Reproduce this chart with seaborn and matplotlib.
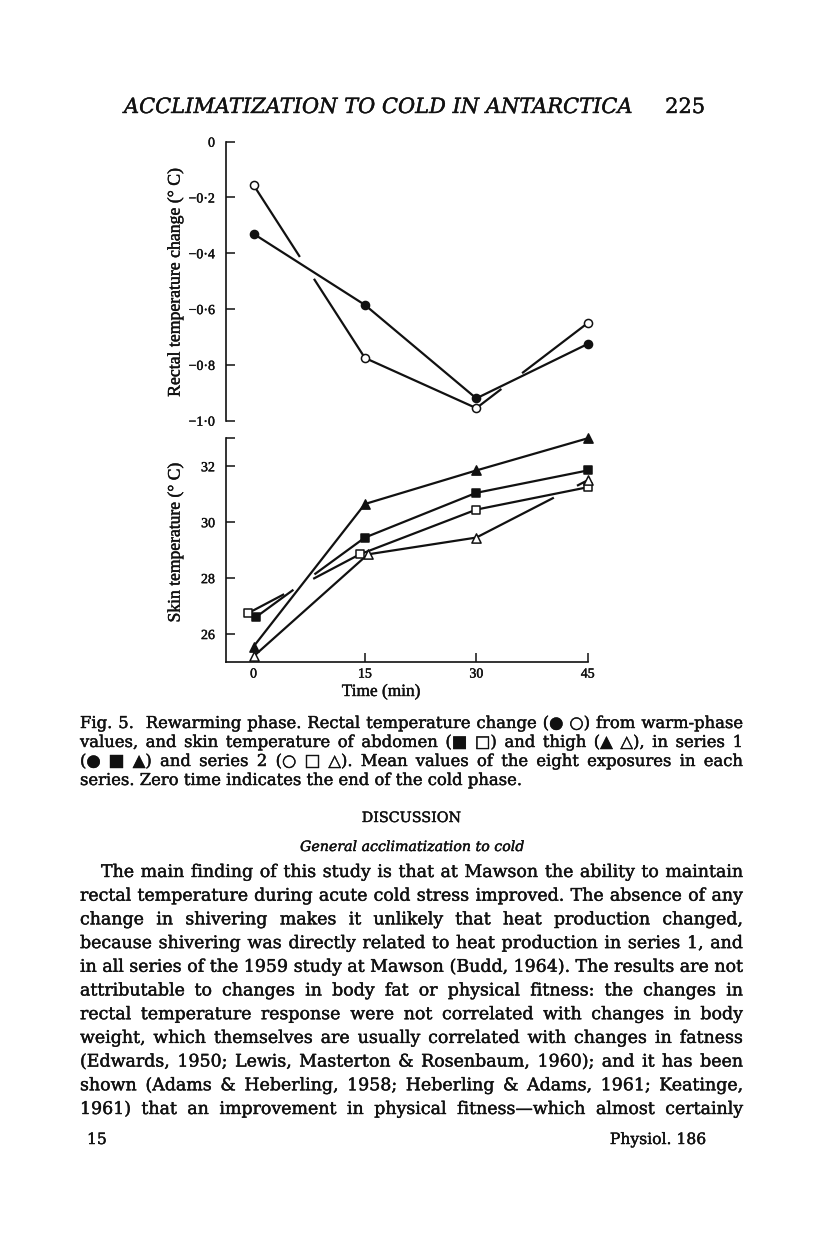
import numpy as np
import pandas as pd
import matplotlib
matplotlib.use("Agg")
import matplotlib.pyplot as plt
import matplotlib.patheffects as pe
import seaborn as sns

# ------------------------------------------------------------------ data
times = [0, 15, 30, 45]
rectal_series1 = [-0.33, -0.585, -0.92, -0.725]
rectal_series2 = [-0.155, -0.775, -0.955, -0.65]
abdomen_series1 = [26.62, 29.45, 31.05, 31.85]
abdomen_series2 = [26.75, 28.85, 30.45, 31.25]
thigh_series1 = [25.55, 30.65, 31.85, 33.0]
thigh_series2 = [25.2, 28.85, 29.45, 31.5]

rectal_ticks = [0, -0.2, -0.4, -0.6, -0.8, -1.0]
rectal_tick_labels = ["0", "\u22120\u00b72", "\u22120\u00b74", "\u22120\u00b76",
                      "\u22120\u00b78", "\u22121\u00b70"]
skin_ticks = [26, 28, 30, 32, 33]
skin_tick_labels = ["26", "28", "30", "32", ""]
time_ticks = [0, 15, 30, 45]
time_tick_labels = ["0", "15", "30", "45"]

rectal_label = "Rectal temperature change (\u00b0 C)"
skin_label = "Skin temperature (\u00b0 C)"
time_label = "Time (min)"

header_title = "ACCLIMATIZATION TO COLD IN ANTARCTICA"
header_page = "225"
caption_lines = [
    "Fig. 5.  Rewarming phase. Rectal temperature change (\u25cf \u25cb) from warm-phase",
    "values, and skin temperature of abdomen (\u25a0 \u25a1) and thigh (\u25b2 \u25b3), in series 1",
    "(\u25cf \u25a0 \u25b2) and series 2 (\u25cb \u25a1 \u25b3). Mean values of the eight exposures in each",
    "series. Zero time indicates the end of the cold phase.",
]
section_title = "DISCUSSION"
subsection_title = "General acclimatization to cold"
body_lines = [
    "The main finding of this study is that at Mawson the ability to maintain",
    "rectal temperature during acute cold stress improved. The absence of any",
    "change in shivering makes it unlikely that heat production changed,",
    "because shivering was directly related to heat production in series 1, and",
    "in all series of the 1959 study at Mawson (Budd, 1964). The results are not",
    "attributable to changes in body fat or physical fitness: the changes in",
    "rectal temperature response were not correlated with changes in body",
    "weight, which themselves are usually correlated with changes in fatness",
    "(Edwards, 1950; Lewis, Masterton & Rosenbaum, 1960); and it has been",
    "shown (Adams & Heberling, 1958; Heberling & Adams, 1961; Keatinge,",
    "1961) that an improvement in physical fitness\u2014which almost certainly",
]
footer_left = "15"
footer_right = "Physiol. 186"

# ------------------------------------------------------------------ style
sns.set_theme(style="white")
plt.rcParams["font.family"] = ["Liberation Serif", "DejaVu Serif", "DejaVu Sans"]

W, H = 816, 1249
fig = plt.figure(figsize=(W / 100, H / 100), dpi=100)
fig.patch.set_facecolor("white")
R = fig.canvas.get_renderer()

INK = "#111111"
LW = 1.6
GAP_PX = 26
BOLDEN = [pe.withStroke(linewidth=0.3, foreground=INK)]
SERIF = ["DejaVu Serif", "DejaVu Sans"]
LAB = ["Liberation Serif", "DejaVu Serif"]


def px_axes(left, top, right, bottom):
    return fig.add_axes([left / W, 1 - bottom / H, (right - left) / W, (bottom - top) / H])


# x scale shared by both panels
X0_PX, X45_PX = 253.5, 587.7
AX_LEFT, AX_RIGHT = 226, 590
per_min = (X45_PX - X0_PX) / 45
xlim = (-(X0_PX - AX_LEFT) / per_min, 45 + (AX_RIGHT - X45_PX) / per_min)

ax1 = px_axes(AX_LEFT, 141.7, AX_RIGHT, 420.7)
ax2 = px_axes(AX_LEFT, 438.3, AX_RIGHT, 662.0)
for ax in (ax1, ax2):
    ax.set_facecolor("none")
    ax.set_xlim(*xlim)
    for sp in ax.spines.values():
        sp.set_color(INK)
        sp.set_linewidth(1.2)
    ax.spines["top"].set_visible(False)
    ax.spines["right"].set_visible(False)
    ax.tick_params(direction="in", length=6.5, width=1.1, color=INK,
                   left=True, bottom=True, top=False, right=False)
ax1.set_ylim(-1.0, 0.0)
ax2.set_ylim(25, 33)
ax1.spines["bottom"].set_visible(False)
ax1.set_xticks([])
TICKFONT = dict(fontsize=10, family=LAB, color=INK)
ax1.set_yticks(rectal_ticks)
ax1.set_yticklabels(rectal_tick_labels, **TICKFONT)
ax2.set_yticks(skin_ticks)
ax2.set_yticklabels(skin_tick_labels, **TICKFONT)
ax2.set_xticks(time_ticks)
ax2.set_xticklabels(time_tick_labels, **TICKFONT)
ax2.spines["bottom"].set_bounds(xlim[0], 45)
ax1.tick_params(axis="y", pad=8)
ax2.tick_params(axis="y", pad=8)
ax2.tick_params(axis="x", pad=4)
for ax in (ax1, ax2):
    for lab in ax.get_xticklabels() + ax.get_yticklabels():
        lab.set_path_effects(BOLDEN)

# small horizontal dodge so coincident symbols stay legible (style only)
dodge = {
    "abd2": [-0.7, -0.7, 0, 0],
    "abd1": [0.4, 0, 0, 0],
    "thigh2": [0, 0.4, 0, 0],
}


def xs_for(key):
    off = dodge.get(key, [0, 0, 0, 0])
    return [t + o for t, o in zip(times, off)]


def seg_cross(p, q, r, s):
    d1 = q - p
    d2 = s - r
    den = d1[0] * d2[1] - d1[1] * d2[0]
    if abs(den) < 1e-9:
        return None
    t = ((r[0] - p[0]) * d2[1] - (r[1] - p[1]) * d2[0]) / den
    u = ((r[0] - p[0]) * d1[1] - (r[1] - p[1]) * d1[0]) / den
    if 0.03 < t < 0.97 and 0.03 < u < 0.97:
        return t
    return None


def draw_lines(ax, series):
    """series: list of (x, y) ordered from front-most to back-most.
    Lines behind are interrupted where a front line crosses them."""
    trans = ax.transData
    disp = [trans.transform(np.column_stack([x, y])) for x, y in series]
    for i, (x, y) in enumerate(series):
        P = disp[i]
        for k in range(len(x) - 1):
            p, q = P[k], P[k + 1]
            L = np.hypot(*(q - p))
            gaps = []
            for j in range(i):
                Q = disp[j]
                for m in range(len(Q) - 1):
                    t = seg_cross(p, q, Q[m], Q[m + 1])
                    if t is not None:
                        h = GAP_PX / 2 / L
                        gaps.append((max(0, t - h), min(1, t + h)))
            gaps.sort()
            pieces, start = [], 0.0
            for a, b in gaps:
                if a > start:
                    pieces.append((start, a))
                start = max(start, b)
            if start < 1:
                pieces.append((start, 1.0))
            for a, b in pieces:
                xa = x[k] + a * (x[k + 1] - x[k])
                xb = x[k] + b * (x[k + 1] - x[k])
                ya = y[k] + a * (y[k + 1] - y[k])
                yb = y[k] + b * (y[k + 1] - y[k])
                ax.plot([xa, xb], [ya, yb], color=INK, lw=LW,
                        solid_capstyle="butt", zorder=2, clip_on=False)


def markers(ax, x, y, marker, filled, size):
    df = pd.DataFrame({"x": x, "y": y})
    sns.scatterplot(data=df, x="x", y="y", ax=ax, marker=marker, s=size,
                    facecolor=INK if filled else "white", edgecolor=INK,
                    linewidth=1.1, zorder=5, clip_on=False, legend=False)


# top panel: rectal temperature change
top_series = [(xs_for("r1"), rectal_series1), (xs_for("r2"), rectal_series2)]
draw_lines(ax1, top_series)
markers(ax1, xs_for("r1"), rectal_series1, "o", True, 34)
markers(ax1, xs_for("r2"), rectal_series2, "o", False, 34)

# bottom panel: skin temperatures
bottom_series = [
    (xs_for("thigh1"), thigh_series1),
    (xs_for("abd1"), abdomen_series1),
    (xs_for("abd2"), abdomen_series2),
    (xs_for("thigh2"), thigh_series2),
]
draw_lines(ax2, bottom_series)
markers(ax2, xs_for("abd1"), abdomen_series1, "s", True, 36)
markers(ax2, xs_for("abd2"), abdomen_series2, "s", False, 36)
markers(ax2, xs_for("thigh1"), thigh_series1, "^", True, 44)
markers(ax2, xs_for("thigh2"), thigh_series2, "^", False, 44)

for ax in (ax1, ax2):
    ax.set_xlabel("")
    ax.set_ylabel("")


# ------------------------------------------------------------------ text helpers
def width_px(s, size, **kw):
    if not s:
        return 0.0
    t = fig.text(0, 0, s, fontsize=size, **kw)
    w = t.get_window_extent(R).width
    t.remove()
    return w


def fit_size(s, target, **kw):
    return 20.0 * target / width_px(s, 20.0, **kw)


def put(x, y, s, size, ha="left", va="baseline", **kw):
    fig.text(x / W, 1 - y / H, s, fontsize=size, ha=ha, va=va, color=INK,
             path_effects=BOLDEN, **kw)


def put_line(line, x0, x1, ybase, size, justify, **kw):
    words = line.split(" ")
    ws = [width_px(w, size, **kw) for w in words]
    if justify and len(words) > 1:
        gap = (x1 - x0 - sum(ws)) / (len(words) - 1)
    else:
        gap = width_px("a a", size, **kw) - width_px("aa", size, **kw)
    x = x0
    for w, wd in zip(words, ws):
        if w:
            put(x, ybase, w, size, **kw)
        x += wd + gap


# axis labels
put(175, 282, rectal_label, fit_size(rectal_label, 229, family=LAB),
    ha="center", va="center", rotation=90, family=LAB)
put(175, 543, skin_label, fit_size(skin_label, 160, family=LAB),
    ha="center", va="center", rotation=90, family=LAB)
put(381, 692, time_label, fit_size(time_label, 79, family=LAB),
    ha="center", va="center", family=LAB)

# running head
hs = fit_size(header_title, 508, family=SERIF, style="italic")
put(124, 113, header_title, hs, family=SERIF, style="italic")
put(705, 113, header_page, hs, ha="right", family=SERIF)

COL_L, COL_R = 80, 743

# caption
cap_nat = [width_px(l, 10, family=SERIF) for l in caption_lines[:3]]
cap_size = 10 * min((COL_R - COL_L) / w for w in cap_nat) * 0.99
for i, line in enumerate(caption_lines):
    put_line(line, COL_L, COL_R, 728 + 19 * i, cap_size, justify=(i < 3), family=SERIF)

# headings
put((COL_L + COL_R) / 2, 822, section_title,
    fit_size(section_title, 99, family=SERIF), ha="center", family=SERIF)
put((COL_L + COL_R) / 2, 851, subsection_title,
    fit_size(subsection_title, 224, family=SERIF, style="italic"),
    ha="center", family=SERIF, style="italic")

# body text
INDENT = 21
targets = [(COL_R - COL_L - INDENT)] + [(COL_R - COL_L)] * (len(body_lines) - 1)
nat = [width_px(l, 10, family=SERIF) for l in body_lines]
body_size = 10 * min(t / w for t, w in zip(targets, nat)) * 1.0
for i, line in enumerate(body_lines):
    x0 = COL_L + (INDENT if i == 0 else 0)
    put_line(line, x0, COL_R, 877 + 23.7 * i, body_size, justify=True, family=SERIF)

# footer
put(87, 1144, footer_left, cap_size * 0.95, family=SERIF)
put(705, 1144, footer_right, cap_size * 0.95, ha="right", family=SERIF)

fig.savefig("out.png", dpi=100, facecolor="white")
